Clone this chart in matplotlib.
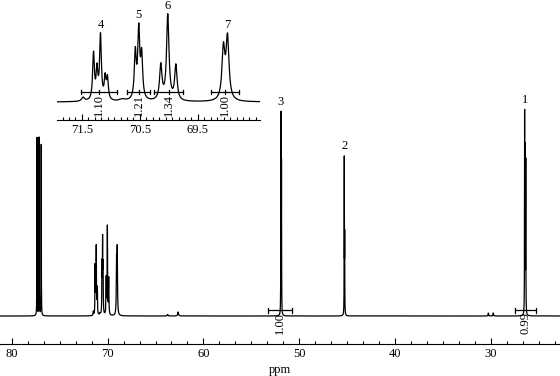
import matplotlib.pyplot as plt
import numpy as np
from matplotlib.ticker import FixedLocator

plt.rcParams['font.family'] = ['Liberation Serif', 'DejaVu Serif']

# 13C peak list: shift (ppm), intensity, half width (ppm)
shifts = [77.36, 77.14, 76.92,
          71.30, 71.24, 71.18, 71.10, 71.06, 71.48,
          70.58, 70.52, 70.47, 70.80,
          70.14, 70.02, 69.88,
          69.06, 68.99,
          63.73, 62.64,
          51.92, 51.86,
          45.31, 45.27,
          30.28, 29.77,
          26.50, 26.44, 26.38]
heights = [178, 178, 171,
           48, 30, 66, 22, 22, 4,
           48, 70, 44, 2,
           36, 88, 36,
           52, 63,
           1.5, 4,
           199, 150,
           154, 74,
           3, 3,
           199, 160, 150]
widths = [0.012, 0.012, 0.012,
          0.018, 0.018, 0.018, 0.018, 0.018, 0.03,
          0.02, 0.02, 0.02, 0.06,
          0.025, 0.025, 0.025,
          0.03, 0.03,
          0.05, 0.05,
          0.012, 0.012,
          0.012, 0.012,
          0.03, 0.03,
          0.012, 0.012, 0.012]

main_labels = ['1', '2', '3']
main_label_ppm = [26.5, 45.31, 51.92]
inset_labels = ['4', '5', '6', '7']
inset_label_ppm = [71.18, 70.52, 70.02, 68.99]

main_int_ranges = [(53.27, 50.77), (27.5, 25.3)]
main_int_values = ['1.00', '0.99']
inset_int_ranges = [(71.51, 70.89), (70.72, 70.32), (70.25, 69.75), (69.27, 68.79)]
inset_int_values = ['1.10', '1.21', '1.34', '1.00']

ppm = np.arange(22.5, 81.5, 0.002)
spec = np.zeros_like(ppm)
for s, h, w in zip(shifts, heights, widths):
    spec += h / (1 + ((ppm - s) / w) ** 2)

fig = plt.figure(figsize=(5.6, 3.76), dpi=100)

# main spectrum
ax = fig.add_axes([0, 32 / 376, 1, 344 / 376])
ax.plot(ppm, spec, color='k', lw=0.9)
ax.set_xlim(81.22, 22.81)
ax.set_ylim(-28, 316)
for sp in ['top', 'left', 'right']:
    ax.spines[sp].set_visible(False)
ax.spines['bottom'].set_linewidth(0.8)
ax.set_yticks([])
ax.xaxis.set_major_locator(FixedLocator([80, 70, 60, 50, 40, 30]))
ax.xaxis.set_minor_locator(FixedLocator(80 - np.arange(0, 36) * 10 / 6))
ax.tick_params(axis='x', which='major', direction='in', length=4, width=0.8,
               labelsize=9, pad=3)
ax.tick_params(axis='x', which='minor', direction='in', length=2.2, width=0.8)
ax.set_xlabel('ppm', fontsize=9, labelpad=3)

for lab, p in zip(main_labels, main_label_ppm):
    top = spec[np.abs(ppm - p) < 0.3].max()
    ax.annotate(lab, (p, top), xytext=(0, 7), textcoords='offset points',
                ha='center', va='center', fontsize=9)

for (a, b), val in zip(main_int_ranges, main_int_values):
    y = 6
    ax.plot([a, b], [y, y], color='k', lw=0.9)
    ax.plot([a, a], [y - 2.5, y + 2.5], color='k', lw=0.9)
    ax.plot([b, b], [y - 2.5, y + 2.5], color='k', lw=0.9)
    m = (a + b) / 2
    ax.text(m, y - 2, val, rotation=90, ha='center', va='top', fontsize=9)

# inset: 69-71.5 ppm region
k = 0.97
ins = fig.add_axes([57 / 560, (376 - 120) / 376, 203 / 560, 120 / 376])
sel = (ppm > 68.4) & (ppm < 72)
ins.plot(ppm[sel], spec[sel], color='k', lw=0.9)
ins.set_xlim(71.93, 68.43)
ins.set_ylim(-18 / k, 102 / k)
for sp in ['top', 'left', 'right']:
    ins.spines[sp].set_visible(False)
ins.spines['bottom'].set_linewidth(0.8)
ins.set_yticks([])
ins.xaxis.set_major_locator(FixedLocator([71.5, 70.5, 69.5]))
ins.xaxis.set_minor_locator(FixedLocator(71.5 + 4 / 9 - np.arange(0, 32) / 9))
ins.tick_params(axis='x', which='major', direction='in', length=4, width=0.8,
                labelsize=9, pad=3)
ins.tick_params(axis='x', which='minor', direction='in', length=2.2, width=0.8)
ins.patch.set_alpha(0)

for lab, p in zip(inset_labels, inset_label_ppm):
    top = spec[np.abs(ppm - p) < 0.15].max()
    ins.annotate(lab, (p, top), xytext=(0, 5.5), textcoords='offset points',
                 ha='center', va='center', fontsize=9, annotation_clip=False)

for (a, b), val in zip(inset_int_ranges, inset_int_values):
    y = 10 / k
    ins.plot([a, b], [y, y], color='k', lw=0.9)
    ins.plot([a, a], [y - 2.5, y + 2.5], color='k', lw=0.9)
    ins.plot([b, b], [y - 2.5, y + 2.5], color='k', lw=0.9)
    m = (a + b) / 2
    ins.plot([m, m], [y - 2.5, y + 2.5], color='k', lw=0.9)
    ins.text(m, y - 2.5, val, rotation=90, ha='center', va='top', fontsize=9)

plt.savefig('out.png', dpi=100)
